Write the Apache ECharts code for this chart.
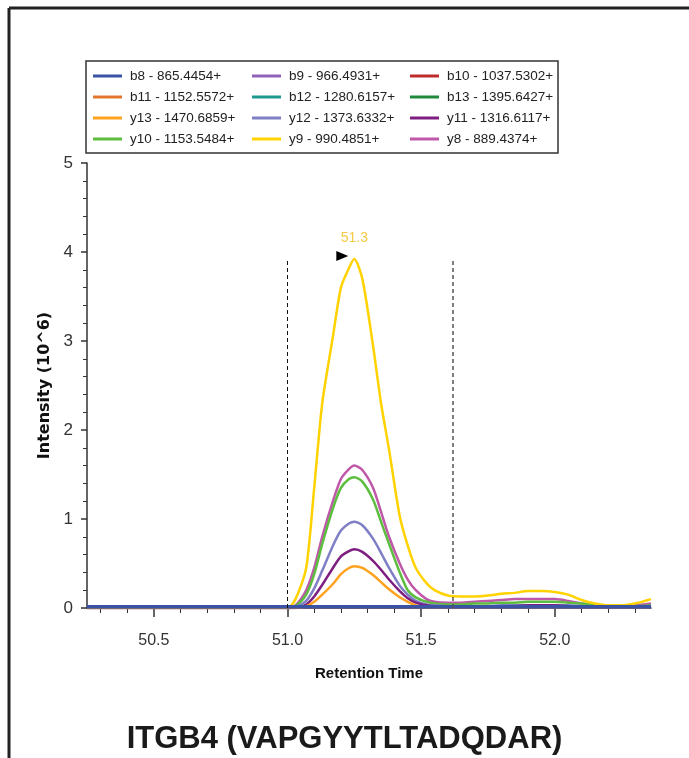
<!DOCTYPE html>
<html>
<head>
<meta charset="utf-8">
<script src="https://cdn.jsdelivr.net/npm/echarts@6/dist/echarts.min.js"></script>
<style>
html, body { margin: 0; padding: 0; background: #fff; }
#chart { width: 689px; height: 758px; }
</style>
</head>
<body>
<div id="chart"></div>
<script>
// retention times (min) of the sampled scans
var times = [50.25, 50.5, 51.0, 51.03, 51.07, 51.1, 51.13, 51.17, 51.2, 51.23, 51.25, 51.28,
    51.32, 51.35, 51.38, 51.42, 51.45, 51.48, 51.52, 51.55, 51.6, 51.65, 51.7, 51.75,
    51.8, 51.85, 51.9, 51.95, 52.0, 52.05, 52.1, 52.15, 52.2, 52.25, 52.3, 52.36];

// y ions, intensity in 10^6
var y9 = [0, 0, 0, 0.1, 0.45, 1.35, 2.3, 3.05, 3.6, 3.82, 3.92, 3.7,
    2.95, 2.3, 1.78, 1.03, 0.7, 0.45, 0.28, 0.2, 0.14, 0.13, 0.13, 0.14,
    0.16, 0.17, 0.19, 0.19, 0.18, 0.15, 0.09, 0.05, 0.03, 0.03, 0.05, 0.1];
var y8 = [0, 0, 0, 0.03, 0.2, 0.45, 0.8, 1.2, 1.45, 1.56, 1.6, 1.55,
    1.35, 1.08, 0.8, 0.5, 0.32, 0.2, 0.1, 0.07, 0.06, 0.06, 0.07, 0.08,
    0.09, 0.1, 0.1, 0.1, 0.1, 0.08, 0.05, 0.03, 0.02, 0.02, 0.03, 0.05];
var y10 = [0, 0, 0, 0.02, 0.15, 0.38, 0.72, 1.12, 1.35, 1.45, 1.47, 1.42,
    1.22, 0.97, 0.72, 0.4, 0.2, 0.12, 0.07, 0.05, 0.04, 0.04, 0.05, 0.05,
    0.06, 0.06, 0.07, 0.07, 0.07, 0.06, 0.05, 0.03, 0.02, 0.02, 0.02, 0.03];
var y12 = [0, 0, 0, 0.01, 0.08, 0.22, 0.42, 0.7, 0.87, 0.95, 0.97, 0.93,
    0.78, 0.62, 0.45, 0.25, 0.15, 0.08, 0.04, 0.03, 0.02, 0.02, 0.02, 0.02,
    0.03, 0.03, 0.03, 0.03, 0.03, 0.03, 0.02, 0.02, 0.01, 0.01, 0.01, 0.02];
var y11 = [0, 0, 0, 0, 0.04, 0.13, 0.26, 0.45, 0.58, 0.64, 0.66, 0.63,
    0.53, 0.43, 0.32, 0.19, 0.11, 0.06, 0.03, 0.02, 0.02, 0.02, 0.02, 0.02,
    0.02, 0.02, 0.03, 0.03, 0.03, 0.02, 0.02, 0.01, 0.01, 0.01, 0.01, 0.02];
var y13 = [0, 0, 0, 0, 0.02, 0.07, 0.15, 0.27, 0.38, 0.45, 0.47, 0.45,
    0.37, 0.29, 0.21, 0.12, 0.07, 0.03, 0.01, 0.01, 0.01, 0.01, 0.01, 0.01,
    0.01, 0.01, 0.01, 0.01, 0.01, 0.01, 0.01, 0.01, 0.01, 0.01, 0.01, 0.01];

// b ions stay on the baseline
var bTimes = [50.25, 51.0, 51.5, 52.0, 52.36];
var b8 = [0.015, 0.015, 0.015, 0.015, 0.015];
var b9 = [0.01, 0.01, 0.01, 0.01, 0.01];
var b10 = [0.01, 0.01, 0.01, 0.01, 0.01];
var b11 = [0.01, 0.01, 0.01, 0.01, 0.01];
var b12 = [0.01, 0.01, 0.01, 0.01, 0.01];
var b13 = [0.01, 0.01, 0.01, 0.01, 0.01];

var xTicks = [50.5, 51.0, 51.5, 52.0];
var xMinorTicks = [50.3, 50.4, 50.6, 50.7, 50.8, 50.9, 51.1, 51.2, 51.3, 51.4,
    51.6, 51.7, 51.8, 51.9, 52.1, 52.2, 52.3];
var peakBounds = [51.0, 51.62];
var peakLabel = '51.3';

var sans = '"Liberation Sans", Arial, sans-serif';

function pairs(xs, ys) {
    return xs.map(function (x, i) { return [x, ys[i]]; });
}

var ions = [
    { name: 'y8 - 889.4374+', color: '#c058aa', data: pairs(times, y8) },
    { name: 'y10 - 1153.5484+', color: '#5cbd3f', data: pairs(times, y10) },
    { name: 'y12 - 1373.6332+', color: '#7f7fc6', data: pairs(times, y12) },
    { name: 'y11 - 1316.6117+', color: '#7d1e80', data: pairs(times, y11) },
    { name: 'y13 - 1470.6859+', color: '#ffa21f', data: pairs(times, y13) },
    { name: 'y9 - 990.4851+', color: '#ffd200', data: pairs(times, y9) },
    { name: 'b13 - 1395.6427+', color: '#1f8a3c', data: pairs(bTimes, b13) },
    { name: 'b12 - 1280.6157+', color: '#1c9a8f', data: pairs(bTimes, b12) },
    { name: 'b11 - 1152.5572+', color: '#e2762f', data: pairs(bTimes, b11) },
    { name: 'b10 - 1037.5302+', color: '#bf2a2a', data: pairs(bTimes, b10) },
    { name: 'b9 - 966.4931+', color: '#9160b8', data: pairs(bTimes, b9) },
    { name: 'b8 - 865.4454+', color: '#3a53a4', data: pairs(bTimes, b8) }
];

var peakTop = Math.max.apply(null, y9);

var series = ions.map(function (ion) {
    var s = {
        name: ion.name,
        type: 'line',
        data: ion.data,
        showSymbol: false,
        smooth: 0.25,
        color: ion.color,
        lineStyle: { width: ion.name.indexOf('b8') === 0 ? 3.5 : 2.5, color: ion.color },
        z: 2
    };
    if (ion.name.indexOf('y9') === 0) {
        s.markLine = {
            silent: true,
            symbol: 'none',
            label: { show: false },
            data: [
                [{ coord: [peakBounds[0], 0], lineStyle: { color: '#111', width: 1, type: [4, 3] } },
                 { coord: [peakBounds[0], peakTop] }],
                [{ coord: [peakBounds[1], 0], lineStyle: { color: '#555', width: 1.5, type: [4, 3] } },
                 { coord: [peakBounds[1], peakTop] }]
            ]
        };
        s.markPoint = {
            silent: true,
            data: [
                { type: 'max', symbol: 'triangle', symbolRotate: -90, symbolSize: [10, 12],
                  symbolOffset: [-12, -3], itemStyle: { color: '#000' }, label: { show: false } },
                { type: 'max', symbol: 'circle', symbolSize: 1, itemStyle: { color: 'transparent' },
                  label: { show: true, position: 'top', distance: 13, formatter: peakLabel,
                           color: '#f6c945', fontSize: 14, fontFamily: sans } }
            ]
        };
    }
    return s;
});

function legendCol(left, names) {
    return {
        orient: 'vertical',
        left: left,
        top: 64,
        itemWidth: 29,
        itemHeight: 3,
        itemGap: 7,
        icon: 'rect',
        selectedMode: false,
        data: names,
        textStyle: { fontSize: 13.5, fontFamily: sans, color: '#222', padding: [0, 0, 0, 3] }
    };
}

var myChart = echarts.init(document.getElementById('chart'));
var option = {
    backgroundColor: '#fff',
    animation: false,
    title: {
        text: 'ITGB4 (VAPGYYTLTADQDAR)',
        left: 'center',
        top: 719,
        textStyle: { fontSize: 31, fontWeight: 'bold', fontFamily: sans, color: '#1a1a1a' }
    },
    legend: [
        legendCol(88, ['b8 - 865.4454+', 'b11 - 1152.5572+', 'y13 - 1470.6859+', 'y10 - 1153.5484+']),
        legendCol(247, ['b9 - 966.4931+', 'b12 - 1280.6157+', 'y12 - 1373.6332+', 'y9 - 990.4851+']),
        legendCol(405, ['b10 - 1037.5302+', 'b13 - 1395.6427+', 'y11 - 1316.6117+', 'y8 - 889.4374+'])
    ],
    graphic: [
        { type: 'rect', shape: { x: 86, y: 61, width: 472, height: 92 },
          style: { fill: 'none', stroke: '#333', lineWidth: 1.5 }, silent: true },
        { type: 'line', shape: { x1: 9, y1: 8, x2: 689, y2: 8 },
          style: { stroke: '#222', lineWidth: 3 }, silent: true },
        { type: 'line', shape: { x1: 9, y1: 8, x2: 9, y2: 758 },
          style: { stroke: '#222', lineWidth: 3 }, silent: true }
    ],
    grid: { left: 87, right: 38, top: 163, bottom: 150 },
    xAxis: [
        {
            type: 'value',
            min: 50.25,
            max: 52.36,
            name: 'Retention Time',
            nameLocation: 'middle',
            nameGap: 58,
            nameTextStyle: { fontSize: 15, fontWeight: 'bold', fontFamily: sans, color: '#111' },
            axisLine: { show: true, lineStyle: { color: '#333', width: 1.5 } },
            axisTick: { show: true, customValues: xTicks, length: 9, lineStyle: { color: '#333', width: 1.5 } },
            axisLabel: { customValues: xTicks, margin: 25, fontSize: 16, fontFamily: sans, color: '#333',
                formatter: function (v) { return v.toFixed(1); } },
            splitLine: { show: false }
        },
        {
            type: 'value',
            min: 50.25,
            max: 52.36,
            position: 'bottom',
            axisLine: { show: false },
            axisTick: { show: true, customValues: xMinorTicks, length: 5, lineStyle: { color: '#333', width: 1 } },
            axisLabel: { show: false },
            splitLine: { show: false }
        }
    ],
    yAxis: {
        type: 'value',
        min: 0,
        max: 5,
        interval: 1,
        name: 'Intensity (10^6)',
        nameLocation: 'middle',
        nameGap: 34,
        nameTextStyle: { fontSize: 16, fontWeight: 'bold', fontFamily: '"DejaVu Sans", sans-serif', color: '#111' },
        axisLine: { show: true, lineStyle: { color: '#333', width: 1.5 } },
        axisTick: { show: true, length: 6, lineStyle: { color: '#333', width: 1.5 } },
        minorTick: { show: true, splitNumber: 5, length: 4, lineStyle: { color: '#333', width: 1 } },
        axisLabel: { margin: 14, fontSize: 17, fontFamily: sans, color: '#333' },
        splitLine: { show: false }
    },
    series: series
};
myChart.setOption(option);
</script>
</body>
</html>
